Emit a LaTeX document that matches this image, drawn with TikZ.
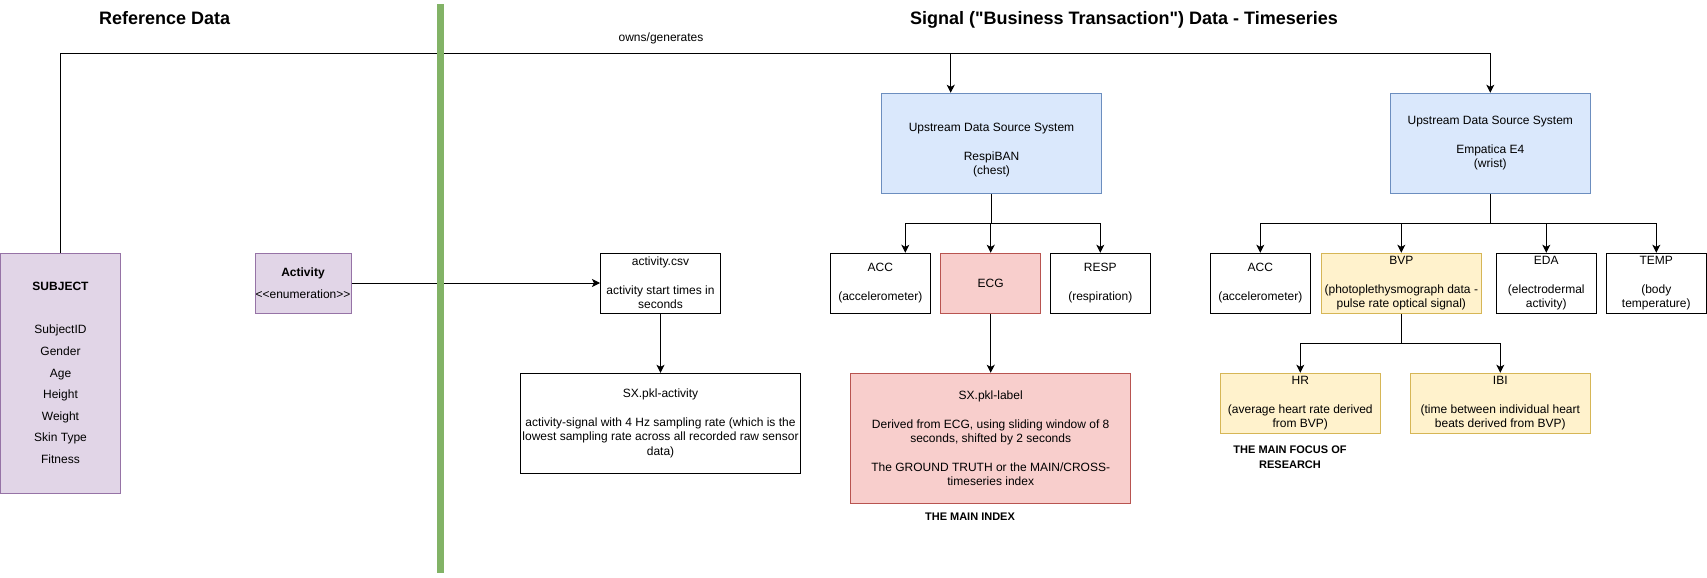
\documentclass[tikz,border=0pt]{standalone}
\usepackage{fontspec}
\setmainfont{Liberation Sans}[Ligatures=TeXOff]
\usepackage{tikz}
\usetikzlibrary{arrows.meta, positioning}
\definecolor{lavanda}{RGB}{225, 213, 231}
\definecolor{morado}{RGB}{150, 115, 166}
\definecolor{cielo}{RGB}{218, 232, 252}
\definecolor{azulosc}{RGB}{108, 142, 191}
\definecolor{rosa}{RGB}{248, 206, 204}
\definecolor{rojo}{RGB}{184, 84, 80}
\definecolor{arena}{RGB}{255, 242, 204}
\definecolor{ocre}{RGB}{214, 182, 86}
\definecolor{verde}{RGB}{130, 179, 102}
\tikzset{
    box/.style={draw, rectangle, fill=white, text=black, align=center, inner sep=0pt, line width=0.75pt, minimum width=75pt, minimum height=45pt, font=\fontsize{9}{10.8}\selectfont},
    ent/.style={box, fill=lavanda, draw=morado, font=\fontsize{9}{16.2}\selectfont},
    src/.style={box, fill=cielo, draw=azulosc},
    idx/.style={box, fill=rosa, draw=rojo},
    foc/.style={box, fill=arena, draw=ocre},
    ttl/.style={font=\fontsize{13.5}{16}\selectfont\bfseries, anchor=base},
    note/.style={font=\fontsize{8.25}{11.25}\selectfont\bfseries, align=center},
    lbl/.style={font=\fontsize{9}{10.8}\selectfont, anchor=base},
    conn/.style={-, black, line width=0.75pt},
    arr/.style={conn, -{Stealth[length=6pt, width=6pt, inset=1.5pt]}},
}

\begin{document}
\begin{tikzpicture}[x=0.75pt, y=-0.75pt]
    \useasboundingbox (0,0) rectangle (1707,578);

    \node[ttl] (refttl) at (164.6,24.7) {Reference Data};
    \node[ttl] (sigttl) at (1124,24.7) {Signal ("Business Transaction") Data - Timeseries};

    \node[ent, minimum width=90pt, minimum height=180pt] (subj) at (60.5,373) {\textbf{SUBJECT}\\[16.2pt]SubjectID\\Gender\\Age\\Height\\Weight\\Skin Type\\Fitness};
    \node[ent, minimum width=72pt] (act) at (303,283) {\textbf{Activity}\\<<enumeration>>};

    \node[box, minimum width=90pt] (csv) at (660.5,283) {activity.csv\\[10.8pt]activity start times in\\seconds};
    \node[box, minimum width=210pt, minimum height=75pt] (pklact) at (660.5,423.3) {SX.pkl-activity\\[10.8pt]activity-signal with 4 Hz sampling rate (which is the\\lowest sampling rate across all recorded raw sensor\\data)};

    \node[src, minimum width=165pt, minimum height=75pt] (respi) at (991.5,143.3) {\rule{0pt}{16.4pt}Upstream Data Source System\\[10.8pt]RespiBAN\\(chest)};
    \node[box] (acc1) at (880.3,283.3) {ACC\\[10.8pt](accelerometer)};
    \node[idx] (ecg) at (990.7,283.3) {ECG};
    \node[box] (resp) at (1100.3,283.3) {RESP\\[10.8pt](respiration)};
    \node[idx, minimum width=210pt, minimum height=97.5pt] (pkllab) at (990.7,438.3) {SX.pkl-label\\[10.8pt]Derived from ECG, using sliding window of 8\\seconds, shifted by 2 seconds\\[10.8pt]The GROUND TRUTH or the MAIN/CROSS-\\timeseries index};
    \node[note] (mainidx) at (970,516.7) {THE MAIN INDEX};

    \node[src, minimum width=150pt, minimum height=75pt] (emp) at (1490.3,143.3) {Upstream Data Source System\\[10.8pt]Empatica E4\\(wrist)};
    \node[box] (acc2) at (1260.3,283.3) {ACC\\[10.8pt](accelerometer)};
    \node[foc, minimum width=120pt] (bvp) at (1401.3,283.3) {BVP\\[10.8pt](photoplethysmograph data -\\pulse rate optical signal)};
    \node[box] (eda) at (1546.3,283.3) {EDA\\[10.8pt](electrodermal\\activity)};
    \node[box] (temp) at (1656.3,283.3) {TEMP\\[10.8pt](body\\temperature)};
    \node[foc, minimum width=120pt] (hr) at (1300.3,403.3) {HR\\[10.8pt](average heart rate derived\\from BVP)};
    \node[foc, minimum width=135pt] (ibi) at (1500.3,403.3) {IBI\\[10.8pt](time between individual heart\\beats derived from BVP)};
    \node[note] (focus) at (1290,457.5) {THE MAIN FOCUS OF\\RESEARCH};

    \coordinate (bus) at (60.5,53.3);
    \coordinate (respiin) at ([xshift=-30.6pt]respi.north);
    \draw[conn] (subj.north) -- (bus) -- node[lbl, pos=0.42, yshift=8.7pt] {owns/generates} (bus -| emp.north);
    \draw[arr] (bus -| respiin) -- (respiin);
    \draw[arr] (bus -| emp.north) -- (emp.north);

    \draw[arr] (act) -- (csv);
    \draw[arr] (csv) -- (pklact);

    \draw[conn] (respi.south) -- ++(0,30) coordinate (rb);
    \draw[arr] (rb) -| ([xshift=18.75pt]acc1.north);
    \draw[arr] (rb) -| (ecg.north);
    \draw[arr] (rb) -| (resp.north);
    \draw[arr] (ecg) -- (pkllab);

    \draw[conn] (emp.south) -- ++(0,30) coordinate (eb);
    \foreach \n in {acc2, bvp, eda, temp}
        \draw[arr] (eb) -| (\n.north);
    \draw[conn] (bvp.south) -- ++(0,30) coordinate (bb);
    \draw[arr] (bb) -| (hr.north);
    \draw[arr] (bb) -| (ibi.north);

    \fill[verde] (437,4) rectangle (444,573);
\end{tikzpicture}
\end{document}
